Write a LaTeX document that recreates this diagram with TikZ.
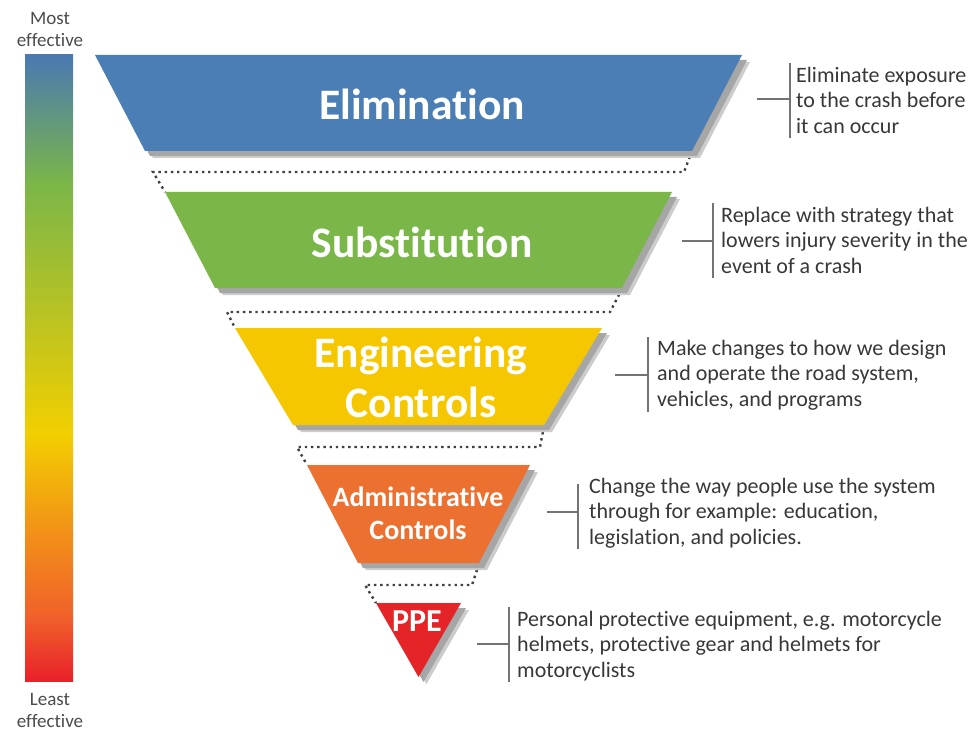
\documentclass[tikz,border=0pt]{standalone}
\usepackage{fontspec}
\setmainfont{Carlito}[Ligatures={NoCommon}]
\begin{document}
\begin{tikzpicture}[x=1pt,y=-1pt,
  shadowA/.style={fill=black!20},
  shadowB/.style={fill=black!35},
  tiertext/.style={text=white,font=\bfseries\fontsize{43.5}{50}\selectfont,align=center,inner sep=0pt},
  admtext/.style={text=white,font=\bfseries\fontsize{28}{33}\selectfont,align=center,inner sep=0pt},
  ppetext/.style={text=white,font=\bfseries\fontsize{32}{33}\selectfont,align=center,inner sep=0pt},
  dotline/.style={draw=black!75,line width=2.4pt,dash pattern=on 2.4pt off 3.8pt},
  bracket/.style={draw=black!55,line width=1.1pt},
  desc/.style={text=black!78,font=\fontsize{22}{25.5}\selectfont,align=left,anchor=west,inner sep=0pt},
  barlabel/.style={text=black!70,font=\fontsize{19}{22}\selectfont,align=center,inner sep=0pt}]
\definecolor{cBlue}{HTML}{4A7EB5}
\definecolor{cGreen}{HTML}{7AB648}
\definecolor{cYellow}{HTML}{F5C700}
\definecolor{cOrange}{HTML}{EC7030}
\definecolor{cRed}{HTML}{E52428}
\definecolor{gBlue}{HTML}{4A79B2}
\definecolor{gGreen}{HTML}{7AB648}
\definecolor{gYellow}{HTML}{F2CF00}
\definecolor{gOrange}{HTML}{F29018}
\definecolor{gOrRed}{HTML}{F0602A}
\definecolor{gRed}{HTML}{E8202A}
\useasboundingbox (0,0) rectangle (974,730);
\fill[white] (0,0) rectangle (974,730);
% gradient bar
\shade[top color=gBlue,bottom color=gGreen] (25,55) rectangle (73,184);
\shade[top color=gGreen,bottom color=gYellow] (25,183) rectangle (73,434);
\shade[top color=gYellow,bottom color=gOrange] (25,433) rectangle (73,534);
\shade[top color=gOrange,bottom color=gOrRed] (25,533) rectangle (73,618);
\shade[top color=gOrRed,bottom color=gRed] (25,617) rectangle (73,681);
\node[barlabel] (most) at (50,29) {Most\\effective};
\node[barlabel] (least) at (50,710) {Least\\effective};
% tiers
\newcommand{\tier}[5]{%
  \fill[shadowA,shift={(8,7)}] (#1,#2) -- ({837-#1},#2) -- ({837-#3},#4) -- (#3,#4) -- cycle;
  \fill[shadowB,shift={(5,5)}] (#1,#2) -- ({837-#1},#2) -- ({837-#3},#4) -- (#3,#4) -- cycle;
  \fill[#5] (#1,#2) -- ({837-#1},#2) -- ({837-#3},#4) -- (#3,#4) -- cycle;}
% dotted connectors
\path[dotline] (692,151) -- (684,172) -- (153,172) -- (165,192);
\path[dotline] (622,289) -- (610,312) -- (227,312) -- (235,328);
\path[dotline] (544,426) -- (540,447) -- (297,447) -- (307,465);
\path[dotline] (479,564) -- (472,585) -- (365,585) -- (376,603);
\tier{95}{55}{145}{151}{cBlue}
\tier{165}{192}{215}{288}{cGreen}
\tier{235}{328}{293}{425}{cYellow}
\tier{307}{465}{358}{563}{cOrange}
\tier{376}{603}{418.5}{677}{cRed}
\node[tiertext] (elim) at (422,104) {Elimination};
\node[tiertext] (subs) at (422,242) {Substitution};
\node[tiertext] (eng) at (421,377) {Engineering\\Controls};
\node[admtext] (adm) at (418,513) {Administrative\\Controls};
\node[ppetext] (ppe) at (417,621) {PPE};
% brackets and descriptions
\coordinate (t1) at (757,99);  \coordinate (m1) at (790,99);
\coordinate (a1) at (790,63);  \coordinate (z1) at (790,138);
\draw[bracket] (t1) -- (m1); \draw[bracket] (a1) -- (z1);
\node[desc] (d1) at (796,100) {Eliminate exposure\\to the crash before\\it can occur};
\coordinate (t2) at (682,241); \coordinate (m2) at (713,241);
\coordinate (a2) at (713,203); \coordinate (z2) at (713,278);
\draw[bracket] (t2) -- (m2); \draw[bracket] (a2) -- (z2);
\node[desc] (d2) at (721,240) {Replace with strategy that\\lowers injury severity in the\\event of a crash};
\coordinate (t3) at (615,375); \coordinate (m3) at (648,375);
\coordinate (a3) at (648,337); \coordinate (z3) at (648,412);
\draw[bracket] (t3) -- (m3); \draw[bracket] (a3) -- (z3);
\node[desc] (d3) at (657,375) {Make changes to how we design\\and operate the road system,\\vehicles, and programs};
\coordinate (t4) at (547,512); \coordinate (m4) at (578,512);
\coordinate (a4) at (578,484); \coordinate (z4) at (578,549);
\draw[bracket] (t4) -- (m4); \draw[bracket] (a4) -- (z4);
\node[desc] (d4) at (589,513) {Change the way people use the system\\through for example: education,\\legislation, and policies.};
\coordinate (t5) at (477,644); \coordinate (m5) at (509,644);
\coordinate (a5) at (509,607); \coordinate (z5) at (509,682);
\draw[bracket] (t5) -- (m5); \draw[bracket] (a5) -- (z5);
\node[desc] (d5) at (517,646) {Personal protective equipment, e.g. motorcycle\\helmets, protective gear and helmets for\\motorcyclists};
\end{tikzpicture}
\end{document}
